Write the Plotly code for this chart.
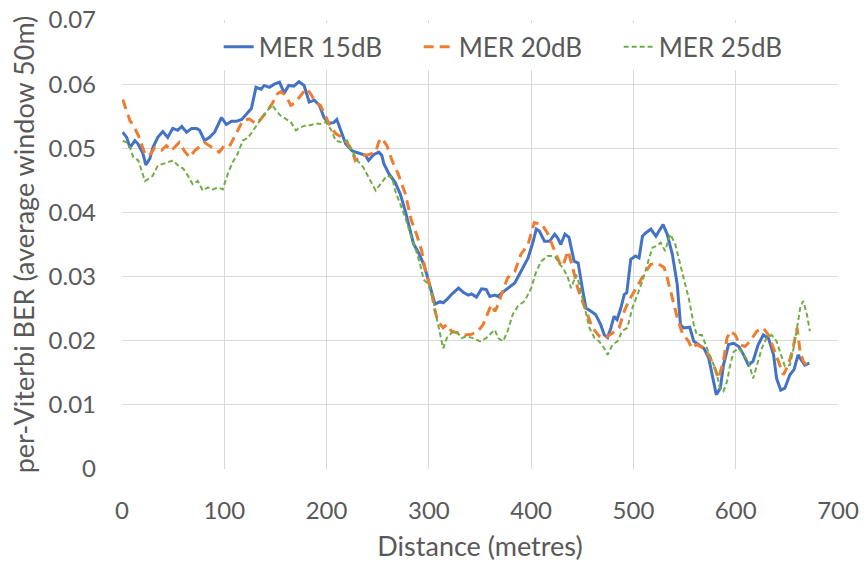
import plotly.graph_objects as go

# ---- data ----
series_names = ["MER 15dB", "MER 20dB", "MER 25dB"]

x_mer15 = [0.7, 4.6, 7.8, 12.6, 15.6, 20.4, 23.3, 27.2, 30.2, 35, 39.9, 44.7, 49.6, 54.5, 58.4, 63.2, 68.1, 73, 75.9, 80.7,
           85.6, 90.5, 97.3, 102, 107, 112, 117, 122, 126.5, 131, 136, 139, 144, 149, 154, 158.6, 163, 168, 173, 178,
           183, 188, 193, 197.5, 202, 207, 210, 215, 218.6, 225, 233, 238, 241, 246, 251, 254, 256, 261, 267, 272,
           277, 282, 285, 290, 295, 298, 303, 306, 311, 314, 317.5, 322, 329, 334, 338.5, 341.7, 346.6, 351.5, 356, 359.6,
           364.5, 367.7, 371, 377, 384, 390, 397, 402, 405, 408, 413, 418, 423, 426, 429, 433, 437, 442, 446, 450,
           453.6, 458.5, 463, 468, 471.5, 474.7, 478, 481, 484, 487.7, 491, 493.5, 496, 497.4, 502, 505.5, 508.8, 512, 517, 522,
           525, 529, 533, 538, 542.8, 546, 549, 555, 559, 564, 569, 573.6, 577, 581, 585, 588, 593, 598, 603, 607.7,
           612.5, 617, 622, 627, 632, 637, 640, 644, 648, 653, 657, 661, 664, 667.6, 672]
y_mer15 = [0.0525, 0.0517, 0.0501, 0.0512, 0.0507, 0.0492, 0.0474, 0.0484, 0.0501, 0.0517, 0.0526, 0.0517, 0.0531, 0.0528, 0.0534, 0.0525, 0.0531, 0.0531, 0.0528, 0.0512,
           0.0517, 0.0525, 0.0548, 0.0537, 0.0542, 0.0542, 0.0545, 0.0554, 0.0562, 0.0595, 0.0592, 0.0598, 0.0595, 0.0600, 0.0603, 0.0586, 0.0598, 0.0597, 0.0604, 0.0598,
           0.0572, 0.0575, 0.0567, 0.0548, 0.0539, 0.0540, 0.0545, 0.0523, 0.0507, 0.0496, 0.0492, 0.0489, 0.0481, 0.0490, 0.0494, 0.0489, 0.0476, 0.0460, 0.0447, 0.0429,
           0.0402, 0.0371, 0.0351, 0.0337, 0.0319, 0.0303, 0.0272, 0.0257, 0.0261, 0.0259, 0.0264, 0.0272, 0.0282, 0.0275, 0.0271, 0.0273, 0.0268, 0.0281, 0.0280, 0.0269,
           0.0271, 0.0269, 0.0274, 0.0282, 0.0290, 0.0308, 0.0329, 0.0355, 0.0374, 0.0371, 0.0355, 0.0355, 0.0366, 0.0360, 0.0350, 0.0366, 0.0361, 0.0324, 0.0321, 0.0282,
           0.0251, 0.0246, 0.0241, 0.0225, 0.0209, 0.0205, 0.0220, 0.0238, 0.0233, 0.0251, 0.0272, 0.0275, 0.0308, 0.0327, 0.0332, 0.0329, 0.0363, 0.0368, 0.0374, 0.0363,
           0.0371, 0.0381, 0.0366, 0.0335, 0.0288, 0.0225, 0.0220, 0.0221, 0.0199, 0.0194, 0.0188, 0.0173, 0.0147, 0.0116, 0.0126, 0.0162, 0.0194, 0.0196, 0.0191, 0.0178,
           0.0162, 0.0168, 0.0194, 0.0209, 0.0204, 0.0178, 0.0141, 0.0123, 0.0126, 0.0147, 0.0155, 0.0178, 0.0170, 0.0162, 0.0165]

x_mer20 = [0.7, 4.6, 7.8, 11, 16, 19, 22.4, 27, 32, 38.6, 43.5, 48, 53, 56, 61, 66, 71, 76, 80.7, 85.6,
           90.5, 95, 100, 105, 108, 113, 118, 124.5, 131, 136, 141, 147, 152, 155, 160, 165, 170, 175, 180, 184.5,
           189, 194, 199, 204, 209, 215, 220, 225, 228, 235, 241, 248, 251, 254, 259, 264, 270, 277, 283, 288,
           293, 296, 299.6, 303, 306, 309, 314, 317.5, 322, 329, 335, 341.7, 348, 353, 358, 361, 364.5, 367.7, 371, 377,
           384, 390, 397, 403, 410, 416, 423, 428, 431, 436, 440.7, 445.5, 450, 455, 460, 466.6, 471.5, 479.6, 486, 491,
           496, 502, 507, 512, 517, 523, 530, 533, 538, 543, 547.7, 554, 557, 562, 569, 573.6, 578.5, 583, 588, 591.4,
           595, 599.5, 604, 609, 614, 620.6, 627, 632, 637, 642, 646.6, 651.4, 656, 660, 663, 666, 672]
y_mer20 = [0.0576, 0.0559, 0.0543, 0.0536, 0.0520, 0.0507, 0.0491, 0.0489, 0.0501, 0.0497, 0.0504, 0.0496, 0.0504, 0.0509, 0.0496, 0.0486, 0.0496, 0.0502, 0.0509, 0.0504,
           0.0499, 0.0494, 0.0504, 0.0503, 0.0512, 0.0528, 0.0543, 0.0546, 0.0538, 0.0546, 0.0556, 0.0570, 0.0585, 0.0588, 0.0583, 0.0567, 0.0572, 0.0583, 0.0593, 0.0585,
           0.0572, 0.0567, 0.0551, 0.0533, 0.0523, 0.0517, 0.0509, 0.0496, 0.0481, 0.0489, 0.0490, 0.0494, 0.0510, 0.0516, 0.0504, 0.0481, 0.0460, 0.0429, 0.0387, 0.0366,
           0.0340, 0.0314, 0.0293, 0.0272, 0.0246, 0.0230, 0.0220, 0.0225, 0.0215, 0.0212, 0.0209, 0.0210, 0.0215, 0.0225, 0.0246, 0.0256, 0.0246, 0.0256, 0.0272, 0.0298,
           0.0308, 0.0335, 0.0350, 0.0384, 0.0382, 0.0368, 0.0340, 0.0321, 0.0316, 0.0340, 0.0314, 0.0282, 0.0262, 0.0241, 0.0220, 0.0207, 0.0204, 0.0212, 0.0220, 0.0246,
           0.0264, 0.0280, 0.0295, 0.0308, 0.0319, 0.0321, 0.0314, 0.0298, 0.0267, 0.0235, 0.0212, 0.0199, 0.0188, 0.0194, 0.0188, 0.0178, 0.0162, 0.0141, 0.0168, 0.0204,
           0.0215, 0.0209, 0.0194, 0.0191, 0.0199, 0.0215, 0.0220, 0.0209, 0.0188, 0.0168, 0.0147, 0.0162, 0.0188, 0.0220, 0.0183, 0.0168, 0.0157]

x_mer25 = [0.7, 4.6, 7.8, 11, 16, 19, 22.4, 25.6, 30, 35, 40, 45, 50, 55, 60, 64.5, 69, 74, 79, 84,
           89, 93.7, 98.5, 103.4, 108, 113, 118, 123, 128, 132.6, 137.5, 142, 147, 150.5, 155, 160, 165, 170, 175, 180,
           184.5, 189, 194, 199, 204, 209, 215, 220, 225, 230, 236, 241, 248, 254, 259, 264, 267, 272, 277, 282,
           286.7, 291.5, 295, 299.6, 304.5, 307.7, 311, 314, 317.5, 322, 327, 332, 337, 343, 350, 356, 361, 364.5, 367.7, 372.6,
           377, 382, 387, 393.7, 400, 405, 410, 416, 423, 428, 431, 436, 439, 444, 447, 452, 457, 462, 466.6, 471.5,
           474.7, 479.6, 484.4, 489, 494, 499, 504, 508.8, 513.6, 518.5, 523, 526.6, 531, 536, 541, 544.5, 549, 554, 559, 562,
           567, 572, 577, 581, 584.5, 588, 591.4, 594.6, 598, 603, 607.7, 612.5, 617, 620.6, 625.5, 630, 635, 640, 643.5, 648,
           653, 656.5, 660, 663, 666, 669.6, 672.5]
y_mer25 = [0.0512, 0.0509, 0.0501, 0.0486, 0.0481, 0.0465, 0.0449, 0.0452, 0.0457, 0.0473, 0.0476, 0.0478, 0.0481, 0.0473, 0.0468, 0.0457, 0.0444, 0.0449, 0.0434, 0.0439,
           0.0436, 0.0439, 0.0436, 0.0460, 0.0478, 0.0491, 0.0512, 0.0516, 0.0528, 0.0538, 0.0549, 0.0559, 0.0567, 0.0559, 0.0551, 0.0546, 0.0541, 0.0528, 0.0533, 0.0536,
           0.0536, 0.0539, 0.0538, 0.0541, 0.0530, 0.0512, 0.0509, 0.0512, 0.0496, 0.0481, 0.0470, 0.0455, 0.0434, 0.0447, 0.0457, 0.0455, 0.0434, 0.0413, 0.0392, 0.0366,
           0.0345, 0.0319, 0.0295, 0.0288, 0.0262, 0.0235, 0.0209, 0.0188, 0.0204, 0.0212, 0.0215, 0.0204, 0.0207, 0.0204, 0.0199, 0.0204, 0.0212, 0.0217, 0.0204, 0.0199,
           0.0215, 0.0241, 0.0254, 0.0262, 0.0282, 0.0308, 0.0324, 0.0332, 0.0332, 0.0319, 0.0314, 0.0298, 0.0282, 0.0303, 0.0288, 0.0256, 0.0220, 0.0204, 0.0199, 0.0188,
           0.0178, 0.0194, 0.0199, 0.0215, 0.0220, 0.0251, 0.0272, 0.0293, 0.0319, 0.0345, 0.0348, 0.0353, 0.0340, 0.0366, 0.0350, 0.0329, 0.0298, 0.0267, 0.0225, 0.0209,
           0.0209, 0.0188, 0.0168, 0.0152, 0.0126, 0.0121, 0.0136, 0.0162, 0.0183, 0.0188, 0.0178, 0.0168, 0.0141, 0.0162, 0.0188, 0.0204, 0.0209, 0.0199, 0.0183, 0.0160,
           0.0162, 0.0188, 0.0220, 0.0251, 0.0262, 0.0241, 0.0215]

x_tickvals = [0, 100, 200, 300, 400, 500, 600, 700]
y_tickvals = [0, 0.01, 0.02, 0.03, 0.04, 0.05, 0.06, 0.07]
y_ticktext = ["0", "0.01", "0.02", "0.03", "0.04", "0.05", "0.06", "0.07"]

x_title = "Distance (metres)"
y_title = "per-Viterbi BER (average window 50m)"

# ---- figure ----
FONT = "Lato, Carlito, Calibri, sans-serif"
TXT = "#595959"
GRID = "#D9D9D9"

fig = go.Figure()
fig.add_trace(go.Scatter(x=x_mer15, y=y_mer15, mode="lines", name=series_names[0],
                         line=dict(color="#4472C4", width=3)))
fig.add_trace(go.Scatter(x=x_mer20, y=y_mer20, mode="lines", name=series_names[1],
                         line=dict(color="#ED7D31", width=3, dash="10px,6px")))
fig.add_trace(go.Scatter(x=x_mer25, y=y_mer25, mode="lines", name=series_names[2],
                         line=dict(color="#70AD47", width=2, dash="5px,3px")))

fig.update_layout(
    width=868, height=562,
    margin=dict(l=122, r=30, t=20, b=93),
    paper_bgcolor="white", plot_bgcolor="white",
    font=dict(family=FONT, size=24, color=TXT),
    showlegend=True,
    legend=dict(orientation="h", x=0.135, y=0.94, xanchor="left", yanchor="middle",
                bgcolor="rgba(255,255,255,1)", font=dict(size=26, color=TXT),
                entrywidth=155, entrywidthmode="pixels", itemwidth=30, tracegroupgap=0),
)
fig.update_xaxes(range=[0, 700], tickvals=x_tickvals, showgrid=True, gridcolor=GRID, gridwidth=1,
                 zeroline=False, showline=False, ticks="", tickfont=dict(size=24, color=TXT),
                 ticklabelstandoff=25, automargin=False,
                 title=dict(text=x_title, font=dict(size=27, color=TXT), standoff=16))
fig.update_yaxes(range=[0, 0.07], tickvals=y_tickvals, ticktext=y_ticktext, showgrid=True, gridcolor=GRID,
                 gridwidth=1, zeroline=False, showline=False, ticks="", tickfont=dict(size=24, color=TXT),
                 ticklabelstandoff=25, automargin=False,
                 title=dict(text=y_title, font=dict(size=27, color=TXT), standoff=6))

fig.write_html("out.html")
